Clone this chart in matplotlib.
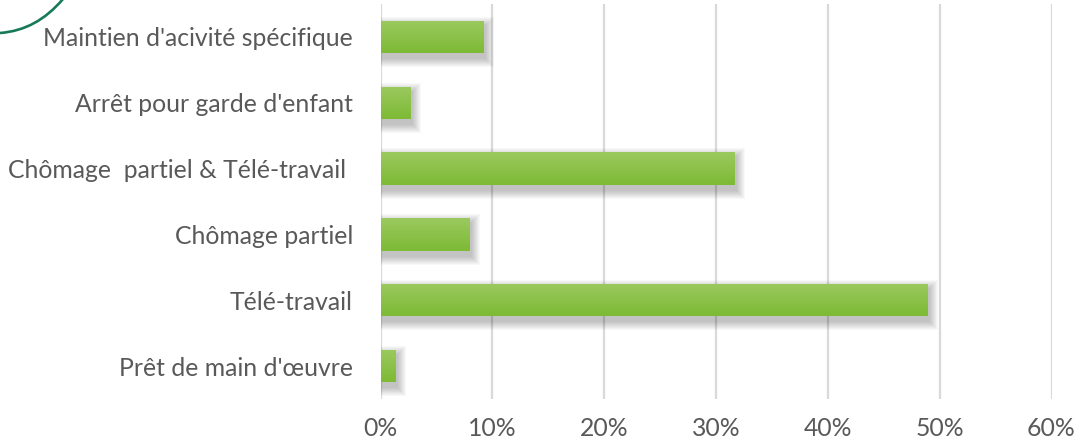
import numpy as np
import matplotlib
matplotlib.use("Agg")
import matplotlib.pyplot as plt
from matplotlib.path import Path
from matplotlib.patches import PathPatch

categories = ["Maintien d'acivité spécifique",
              "Arrêt pour garde d'enfant",
              "Chômage  partiel & Télé-travail ",
              "Chômage partiel",
              "Télé-travail",
              "Prêt de main d'œuvre"]
values = [9.2, 2.6, 31.6, 7.9, 48.9, 1.3]
xticks = [0, 10, 20, 30, 40, 50, 60]
xtick_labels = ["0%", "10%", "20%", "30%", "40%", "50%", "60%"]

W, H = 1076, 441
fig = plt.figure(figsize=(W / 100, H / 100), dpi=100)
ax = fig.add_axes([380.5 / W, 1 - 399 / H, (1051.5 - 380.5) / W, (399 - 4) / H])

ypos = np.arange(len(categories))
bar_h = 0.49

# gridlines
for t in xticks:
    ax.axvline(t, color="#d9d9d9", lw=1.6, zorder=0)

# shadows (soft, offset bottom-right)
px_x = 60 / (1051.5 - 380.5)      # data units per pixel in x
px_y = 6 / (399 - 4)              # data units per pixel in y
dx, dy = 2 * px_x, 5 * px_y
for k in range(9, 0, -1):
    ex, ey = k * px_x, k * px_y
    ax.barh(ypos + dy, np.array(values) + 2 * ex, left=-ex + dx,
            height=bar_h + 2 * ey, color="black", alpha=0.026,
            linewidth=0, zorder=1)

# bars with vertical gradient
bars = ax.barh(ypos, values, height=bar_h, color="#8CC148", linewidth=0, zorder=2)
top = np.array([0x9B, 0xC9, 0x5F]) / 255
bot = np.array([0x7D, 0xBA, 0x35]) / 255
grad = np.linspace(0, 1, 64)[:, None, None]
img = top * (1 - grad) + bot * grad
for b, y, v in zip(bars, ypos, values):
    im = ax.imshow(img, extent=(0, v, y + bar_h / 2, y - bar_h / 2),
                   aspect="auto", zorder=3, interpolation="bilinear")
    im.set_clip_path(b)

ax.set_xlim(0, 60)
ax.set_ylim(len(categories) - 0.5, -0.5)
ax.set_xticks(xticks)
ax.set_xticklabels(xtick_labels)
ax.set_yticks(ypos)
ax.set_yticklabels(categories)
for s in ax.spines.values():
    s.set_visible(False)
ax.tick_params(axis="both", length=0, colors="#595959", labelsize=17.8)
ax.tick_params(axis="y", pad=19.8)
ax.tick_params(axis="x", pad=13)
for lab in ax.get_xticklabels() + ax.get_yticklabels():
    lab.set_fontfamily("Lato")
    lab.set_color("#595959")

# decorative curve top-left
def fp(x, y):
    return (x / W, 1 - y / H)
verts = [fp(0, 33), fp(25, 31), fp(45, 20), fp(63, -1)]
path = Path(verts, [Path.MOVETO, Path.CURVE4, Path.CURVE4, Path.CURVE4])
fig.patches.append(PathPatch(path, transform=fig.transFigure, fill=False,
                             edgecolor="#177A57", lw=1.9))

fig.savefig("out.png", dpi=100)
